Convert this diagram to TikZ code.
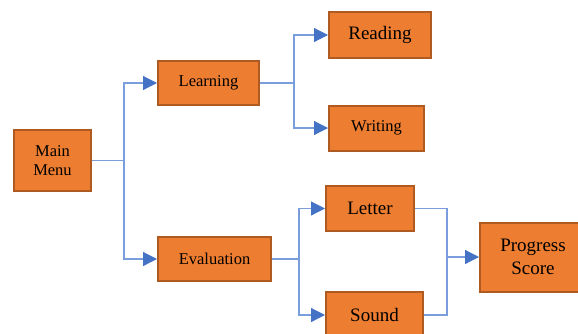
\documentclass[tikz,border=0pt]{standalone}
\usepackage{fontspec}
\setmainfont{Liberation Serif}
\usetikzlibrary{arrows.meta}
\definecolor{boxfill}{HTML}{ED7D31}
\definecolor{boxedge}{HTML}{AE5A21}
\definecolor{wire}{HTML}{7A9EDB}
\definecolor{tip}{HTML}{4472C4}

\begin{document}
\begin{tikzpicture}[x=1pt, y=-1pt,
      box/.style={draw=boxedge, fill=boxfill, line width=2pt, inner sep=0pt,
        align=center, font=\fontsize{16.5}{19}\selectfont},
      big/.style={font=\fontsize{19}{22.5}\selectfont},
      link/.style={draw=wire, line width=1.2pt},
      arr/.style={link, -{Triangle[length=14pt, width=14pt, color=tip]}}]
      \useasboundingbox (0,0) rectangle (578,333);
      % boxes
      \node[box, minimum width=77, minimum height=61] (menu) at (52.5,160.5) {Main\\Menu};
      \node[box, minimum width=101, minimum height=44] (learn) at (208.5,83) {Learning};
      \node[box, minimum width=113, minimum height=44] (eval) at (214.5,259) {Evaluation};
      \node[box, big, minimum width=102, minimum height=46] (read) at (380,35) {Reading};
      \node[box, minimum width=95, minimum height=45] (write) at (376.5,128) {Writing};
      \node[box, big, minimum width=88, minimum height=45] (letter) at (370,208.5) {Letter};
      \node[box, big, minimum width=97, minimum height=46] (sound) at (374.5,315) {Sound};
      \node[box, big, minimum width=106, minimum height=69] (score) at (533,257) {Progress\\Score};
      % joints
      \coordinate (j1) at (124,160.5);
      \coordinate (j2) at (294,83);
      \coordinate (j3) at (299,259);
      \coordinate (j4) at (447,257);
      % links
      \draw[link] (menu.east) -- (j1);
      \draw[arr] (j1) |- (learn.west);
      \draw[arr] (j1) |- (eval.west);
      \draw[link] (learn.east) -- (j2);
      \draw[arr] (j2) |- (read.west);
      \draw[arr] (j2) |- (write.west);
      \draw[link] (eval.east) -- (j3);
      \draw[arr] (j3) |- (letter.west);
      \draw[arr] (j3) |- (sound.west);
      \draw[link] (letter.east) -| (j4);
      \draw[link] (sound.east) -| (j4);
      \draw[arr] (j4) -- (score.west);
    \end{tikzpicture}
\end{document}
